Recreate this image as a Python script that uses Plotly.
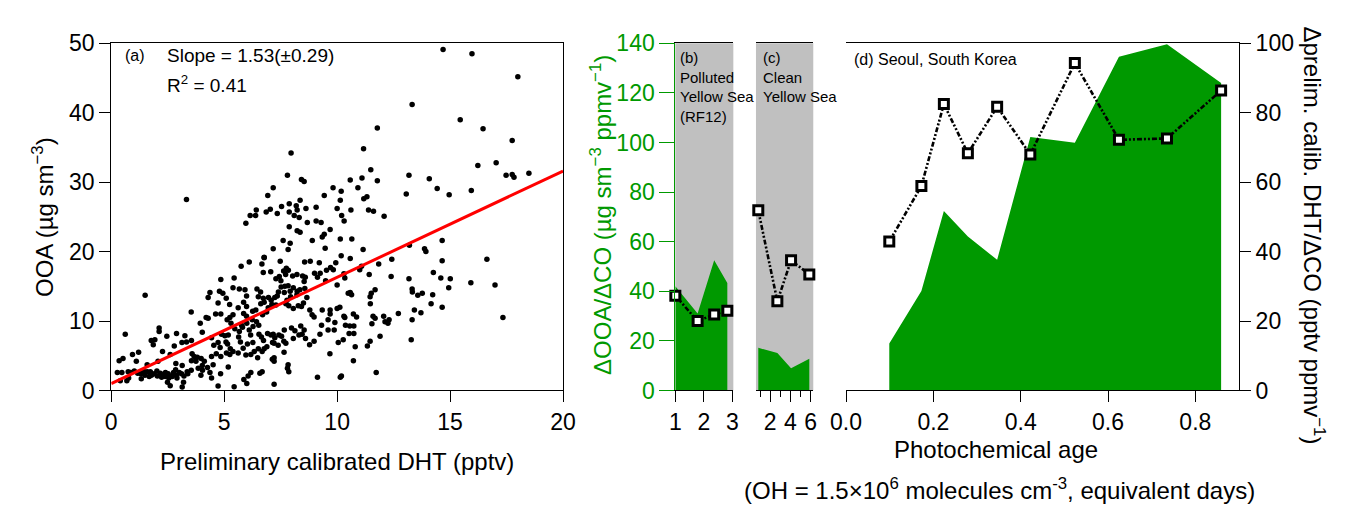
import plotly.graph_objects as go

# ---- panel (a): OOA vs preliminary calibrated DHT ----
dht_pptv = [
    1.50, 0.62, 3.54, 4.85, 4.37, 4.29, 4.79, 4.94, 4.73, 4.20,
    4.29, 3.94, 4.62, 4.85, 2.12, 2.12, 2.89, 2.46, 3.26, 1.93,
    1.77, 1.86, 2.79, 3.13, 3.33, 4.03, 4.44, 4.54, 4.88, 4.73,
    4.82, 4.65, 4.44, 4.85, 1.21, 0.94, 1.11, 0.35, 0.52, 1.59,
    2.07, 2.27, 2.61, 2.86, 3.14, 3.58, 3.67, 3.55, 3.75, 3.98,
    4.12, 4.03, 4.26, 4.51, 4.37, 4.04, 3.97, 3.36, 4.44, 4.84,
    4.73, 0.27, 0.47, 0.75, 0.86, 0.40, 0.69, 0.77, 1.02, 1.17,
    1.31, 1.42, 1.49, 1.59, 1.68, 1.78, 1.90, 2.04, 2.17, 2.30,
    2.40, 2.52, 2.66, 2.76, 2.89, 3.01, 3.11, 1.73, 2.02, 2.23,
    2.39, 2.55, 2.70, 2.91, 2.49, 2.61, 3.14, 3.20, 3.22, 3.39,
    3.54, 2.85, 1.33, 3.85, 3.55, 5.10, 3.81, 3.33, 7.17,
    5.75, 6.11, 6.77, 7.48, 8.56, 8.81, 9.21, 9.94, 10.18, 10.58,
    5.44, 6.67, 6.73, 7.06, 7.29, 7.44, 7.63, 7.75, 7.84, 7.72,
    7.51, 8.03, 8.22, 8.47, 8.59, 8.54, 9.00, 9.13, 9.25, 9.53,
    9.71, 9.83, 9.49, 10.00, 10.30, 10.34, 5.39, 5.09, 5.24, 5.67,
    5.92, 5.99, 5.86, 5.99, 6.45, 6.61, 6.51, 6.73, 6.77, 6.62,
    6.96, 7.08, 7.11, 6.95, 7.24, 7.35, 7.29, 7.40, 7.52, 7.69,
    7.83, 7.66, 7.92, 8.06, 8.23, 8.22, 7.78, 7.94, 7.86, 7.73,
    8.06, 8.28, 8.42, 8.51, 8.66, 8.57, 8.35, 8.79, 8.89, 8.98,
    9.34, 9.69, 10.00, 10.12, 9.69, 9.60, 9.90, 10.30, 10.34, 10.49,
    10.58, 10.64, 10.72, 10.86, 5.62, 5.39, 5.25, 5.13, 5.86, 5.99,
    6.26, 6.40, 6.70, 6.88, 6.24, 6.43, 6.53, 6.28, 6.00, 5.77,
    5.81, 5.67, 5.47, 5.30, 5.18, 5.15, 5.03, 5.08, 5.64, 5.72,
    6.11, 6.17, 6.27, 6.54, 6.65, 6.74, 6.92, 7.07, 7.17, 7.24,
    7.14, 7.42, 7.54, 7.39, 7.66, 7.64, 7.98, 8.13, 8.06, 8.39,
    8.45, 8.54, 8.60, 8.78, 8.98, 8.31, 9.24, 9.31, 9.60, 9.87,
    10.05, 10.27, 10.37, 10.56, 10.74, 10.53, 10.74, 10.72, 10.14, 10.19,
    9.13, 9.68, 7.73, 7.65, 7.21, 6.89, 6.77, 6.68, 6.51, 6.33,
    6.18, 6.48, 6.03, 5.84, 5.96, 5.62, 5.27, 5.25, 5.39, 5.18,
    7.21, 7.13, 7.21, 7.83, 7.80, 6.58, 6.68, 6.18, 6.06, 5.87,
    6.00, 5.44, 7.21, 7.86,
    7.96, 7.80, 8.42, 8.54, 7.17, 6.93, 9.82, 10.18, 10.58, 10.92,
    9.43, 10.14, 8.36, 7.88, 8.19, 8.23, 8.62, 9.07, 10.00, 10.20,
    10.61, 10.31, 6.42, 6.39, 6.15, 7.04, 6.86, 7.35, 7.54, 7.88,
    8.10, 8.32, 5.96, 7.88, 8.23, 8.36, 8.68, 9.07, 9.29, 9.69,
    9.43, 9.34, 10.14, 10.65, 7.61, 7.92, 7.83, 8.90, 9.47, 6.77,
    14.69, 15.97, 18.00, 13.32, 15.45, 16.46, 11.78, 17.75, 11.17, 16.23,
    17.04, 11.49, 18.49, 17.48, 17.75, 17.83, 13.18, 14.08, 11.10, 11.78,
    13.06, 14.43, 14.96, 15.94, 11.18, 11.32, 11.39, 11.61, 12.08, 13.20,
    13.87, 13.93, 14.65, 14.65, 16.63, 14.26, 12.39, 14.59, 15.01, 13.18,
    14.94, 15.92, 16.99, 13.32, 13.33, 13.57, 13.77, 14.23, 14.16, 14.65,
    13.42, 13.71, 12.71, 13.32, 17.34, 13.28, 11.51, 11.46, 11.68, 11.47,
    11.59, 11.68, 11.54, 12.06, 12.12, 12.25, 12.30, 11.90, 11.73, 11.46,
    11.34, 11.84, 11.42, 12.42, 11.08, 10.80, 11.00, 11.15,
]
ooa_ugm3 = [
    13.7, 8.1, 11.3, 16.0, 14.1, 13.4, 14.3, 14.0, 12.6, 10.5,
    10.4, 9.7, 11.0, 11.0, 9.0, 8.5, 8.2, 7.8, 7.9, 7.3,
    7.2, 6.6, 6.4, 6.9, 7.0, 8.4, 7.6, 6.5, 8.1, 6.9,
    6.2, 5.3, 4.9, 4.9, 5.5, 5.2, 4.2, 4.3, 4.6, 3.7,
    4.2, 5.6, 5.2, 3.9, 3.6, 5.3, 4.9, 4.3, 4.2, 4.6,
    4.2, 3.6, 3.3, 3.7, 2.6, 2.9, 2.2, 2.7, 1.8, 2.4,
    0.65, 2.6, 2.6, 2.7, 2.6, 1.4, 1.4, 1.8, 2.8, 2.5,
    2.4, 2.8, 2.2, 2.7, 2.0, 2.2, 2.4, 2.1, 2.5, 2.3,
    2.6, 2.4, 2.1, 2.6, 2.2, 2.6, 2.4, 2.7, 2.8, 1.9,
    2.0, 1.8, 2.0, 1.8, 1.2, 0.7, 0.5, 1.2, 2.1, 2.4,
    2.9, 3.0, 1.7, 3.2, 7.2, 5.4, 4.8, 27.5, 20.4,
    17.9, 18.5, 19.1, 18.6, 18.5, 18.6, 18.4, 18.4, 19.4, 19.0,
    16.2, 18.2, 17.0, 17.1, 16.1, 16.4, 17.2, 17.6, 17.3, 16.7,
    15.8, 16.5, 16.7, 16.5, 16.3, 15.7, 16.9, 16.3, 16.9, 17.3,
    17.7, 17.4, 15.8, 15.2, 16.8, 16.2, 14.8, 13.3, 12.4, 14.6,
    14.5, 13.6, 12.7, 12.1, 14.6, 14.2, 13.5, 13.3, 12.7, 12.5,
    13.4, 13.0, 12.4, 11.9, 13.4, 13.6, 12.3, 14.2, 14.9, 15.0,
    15.1, 14.1, 14.3, 14.8, 14.3, 13.8, 13.0, 13.5, 12.2, 12.5,
    11.8, 12.2, 12.1, 12.6, 13.4, 14.7, 14.5, 11.6, 10.9, 10.6,
    11.6, 11.6, 11.8, 12.0, 11.0, 10.2, 9.8, 10.7, 10.5, 14.0,
    14.1, 13.8, 11.0, 10.6, 11.9, 10.9, 10.5, 10.2, 11.1, 10.7,
    11.4, 11.6, 10.9, 11.3, 10.2, 9.9, 9.4, 9.2, 9.7, 9.4,
    9.1, 8.5, 8.9, 9.7, 8.0, 6.7, 7.9, 7.0, 7.7, 7.0,
    8.7, 8.0, 6.9, 8.1, 7.7, 7.2, 8.2, 8.0, 8.1, 7.6,
    6.9, 8.0, 7.8, 6.5, 8.7, 7.1, 9.0, 8.6, 7.5, 9.3,
    8.1, 8.7, 7.5, 6.6, 7.1, 8.0, 8.1, 9.4, 8.7, 8.7,
    6.9, 7.3, 9.4, 9.3, 9.3, 8.2, 8.2, 4.3, 1.9, 2.1,
    1.9, 5.3, 6.8, 5.5, 6.8, 6.3, 6.0, 5.6, 6.0, 5.6,
    5.2, 4.7, 6.7, 6.1, 5.1, 5.4, 6.0, 5.2, 5.6, 3.4,
    4.2, 4.5, 4.7, 3.7, 3.2, 2.5, 2.7, 2.6, 2.1, 1.6,
    1.0, 0.55, 0.9, 2.7,
    34.2, 31.0, 30.4, 30.1, 29.2, 28.1, 29.2, 28.7, 30.3, 29.2,
    28.1, 27.4, 27.4, 26.9, 26.6, 26.0, 26.2, 26.4, 26.2, 25.2,
    26.0, 24.4, 26.0, 25.2, 25.2, 26.1, 25.7, 25.5, 26.5, 25.7,
    25.2, 24.9, 24.1, 23.6, 23.0, 22.8, 24.2, 24.4, 24.2, 23.2,
    22.5, 22.1, 21.8, 21.8, 21.6, 21.2, 20.3, 21.6, 20.5, 19.2,
    49.1, 48.5, 45.2, 41.2, 39.0, 37.7, 37.8, 36.0, 34.8, 32.4,
    32.8, 31.8, 31.3, 31.0, 31.1, 30.7, 31.0, 30.5, 30.6, 30.2,
    28.3, 29.1, 28.2, 28.8, 27.6, 27.9, 26.0, 25.8, 25.1, 20.9,
    20.4, 20.0, 21.6, 18.7, 18.9, 17.0, 16.4, 16.2, 16.1, 16.1,
    14.8, 15.5, 15.2, 14.6, 14.2, 13.7, 14.0, 13.8, 12.5, 12.0,
    11.6, 11.2, 11.1, 10.2, 10.5, 7.3, 14.0, 13.5, 14.5, 12.5,
    10.7, 10.4, 9.6, 10.7, 9.9, 9.7, 10.2, 7.8, 2.6, 7.1,
    6.4, 18.2, 16.7, 18.9, 17.9, 6.3, 17.4, 20.3,
]
fit_slope = 1.53
fit_intercept = 1.0
fit_x = [0, 20]

# ---- panel (b): polluted Yellow Sea (RF12) ----
b_x = [1.0, 1.78, 2.36, 2.82]
b_ooa_co = [42.0, 31.0, 52.5, 43.3]
b_dht_co = [27.3, 20.0, 21.9, 23.0]

# ---- panel (c): clean Yellow Sea ----
c_x = [0.83, 2.71, 4.06, 5.86]
c_ooa_co = [17.2, 15.1, 9.0, 12.8]
c_dht_co = [51.9, 25.7, 37.5, 33.4]

# ---- panel (d): Seoul ----
d_age = [0.099, 0.1725, 0.224, 0.279, 0.346, 0.422, 0.524, 0.625, 0.735, 0.859]
d_ooa_co = [19.0, 40.1, 72.4, 62.1, 52.7, 102.2, 99.9, 134.6, 139.6, 124.0]
d_dht_co = [42.9, 58.9, 82.5, 68.3, 81.7, 68.0, 94.3, 72.2, 72.6, 86.4]

GREEN = "#009900"
GRAY = "#c0c0c0"
FONT = "Liberation Sans, Arial, sans-serif"
DASH = "5px,2px,2px,2px,2px,2px"

fig = go.Figure()

fig.add_trace(go.Scatter(x=dht_pptv, y=ooa_ugm3, mode="markers",
                         marker=dict(color="black", size=5.5),
                         xaxis="x", yaxis="y"))
fig.add_trace(go.Scatter(x=fit_x, y=[fit_intercept + fit_slope * v for v in fit_x],
                         mode="lines", line=dict(color="#ff0000", width=3),
                         xaxis="x", yaxis="y"))

# green filled ratio + square markers for b, c, d
for xs, fill, sq, xa in [(b_x, b_ooa_co, b_dht_co, "x2"),
                         (c_x, c_ooa_co, c_dht_co, "x3"),
                         (d_age, d_ooa_co, d_dht_co, "x4")]:
    fig.add_trace(go.Scatter(x=xs, y=fill, mode="lines", fill="tozeroy",
                             fillcolor=GREEN, line=dict(width=0, color=GREEN),
                             xaxis=xa, yaxis="y2"))
    fig.add_trace(go.Scatter(x=xs, y=sq, mode="lines+markers",
                             line=dict(color="black", width=2.6, dash=DASH),
                             marker=dict(symbol="square", size=9, color="white",
                                         line=dict(color="black", width=3)),
                             cliponaxis=False, xaxis=xa, yaxis="y3"))

ydom = [0.2742, 0.9330]
common = dict(showgrid=False, zeroline=False, ticks="outside", ticklen=11,
              tickcolor="black", linecolor="black", linewidth=1, showline=True,
              tickfont=dict(size=23))

fig.update_layout(
    width=1355, height=527,
    margin=dict(l=0, r=0, t=0, b=0, autoexpand=False),
    paper_bgcolor="white", plot_bgcolor="white",
    showlegend=False,
    font=dict(family=FONT, size=23, color="black"),
    xaxis=dict(domain=[0.0762, 0.4096], range=[0, 20], tickvals=[0, 5, 10, 15, 20],
               mirror=True, anchor="y", **common),
    yaxis=dict(domain=ydom, range=[0, 50], tickvals=[0, 10, 20, 30, 40, 50],
               mirror=True, anchor="x", **common),
    xaxis2=dict(domain=[0.4925, 0.5353], range=[1, 3.03], tickvals=[1, 2, 3],
                mirror=True, anchor="y2", **common),
    xaxis3=dict(domain=[0.5520, 0.5943], range=[0.6, 6.25], tickvals=[2, 4, 6],
                minor=dict(tickvals=[1, 3, 5], ticks="outside", ticklen=6,
                           tickcolor="black"),
                mirror=True, anchor="y2", **common),
    xaxis4=dict(domain=[0.6185, 0.9085], range=[0, 0.9],
                tickvals=[0, 0.2, 0.4, 0.6, 0.8], tickformat=".1f",
                mirror=True, anchor="y2", **common),
    yaxis2=dict(domain=ydom, range=[0, 140], tickvals=list(range(0, 141, 20)),
                anchor="x2", side="left", showgrid=False, zeroline=False,
                ticks="outside", ticklen=15, tickcolor=GREEN, showline=True,
                linecolor=GREEN, tickfont=dict(color=GREEN, size=23)),
    yaxis3=dict(range=[0, 100], tickvals=list(range(0, 101, 20)),
                anchor="x4", side="right", overlaying="y2", **common),
)

# gray backgrounds of the Yellow Sea panels
for xa in ["x2", "x3"]:
    fig.add_shape(type="rect", xref=f"{xa} domain", yref="y2 domain",
                  x0=0, x1=1, y0=0, y1=1, fillcolor=GRAY,
                  line=dict(width=0), layer="below")

ann = [
    dict(x=0.5, y=48.2, xref="x", yref="y", text="(a)", xanchor="left",
         font=dict(size=16)),
    dict(x=2.4, y=48.2, xref="x", yref="y", text="Slope = 1.53(±0.29)",
         xanchor="left", font=dict(size=19)),
    dict(x=2.4, y=44.1, xref="x", yref="y", text="R<sup>2</sup> = 0.41",
         xanchor="left", font=dict(size=19)),
    dict(x=0.05, y=0.99, xref="x2 domain", yref="y2 domain",
         text="(b)<br>Polluted<br>Yellow Sea<br>(RF12)", xanchor="left",
         yanchor="top", align="left", font=dict(size=15)),
    dict(x=0.08, y=0.99, xref="x3 domain", yref="y2 domain",
         text="(c)<br>Clean<br>Yellow Sea", xanchor="left",
         yanchor="top", align="left", font=dict(size=15)),
    dict(x=0.016, y=0.985, xref="x4 domain", yref="y2 domain",
         text="(d) Seoul, South Korea", xanchor="left", yanchor="top",
         font=dict(size=16)),
    dict(x=0.0258, y=0.6034, textangle=-90,
         text="OOA (µg sm<sup>−3</sup>)", font=dict(size=24)),
    dict(x=0.2428, y=0.1404,
         text="Preliminary calibrated DHT (pptv)", font=dict(size=24)),
    dict(x=0.4376, y=0.6072, textangle=-90,
         text="ΔOOA/ΔCO (µg sm<sup>−3</sup> ppmv<sup>−1</sup>)",
         font=dict(size=24, color=GREEN)),
    dict(x=0.9642, y=0.5674, textangle=90,
         text="Δprelim. calib. DHT/ΔCO (pptv ppmv<sup>−1</sup>)",
         font=dict(size=24)),
    dict(x=0.7292, y=0.1613,
         text="Photochemical age", font=dict(size=24)),
    dict(x=0.7321, y=0.0873,
         text="(OH = 1.5×10<sup>6</sup> molecules cm<sup>-3</sup>, equivalent days)",
         font=dict(size=24)),
]
for a in ann:
    a.setdefault("showarrow", False)
    a.setdefault("xref", "paper")
    a.setdefault("yref", "paper")
    a.setdefault("xanchor", "center")
    a.setdefault("yanchor", "middle")
    fig.add_annotation(**a)

fig.write_html("out.html")
